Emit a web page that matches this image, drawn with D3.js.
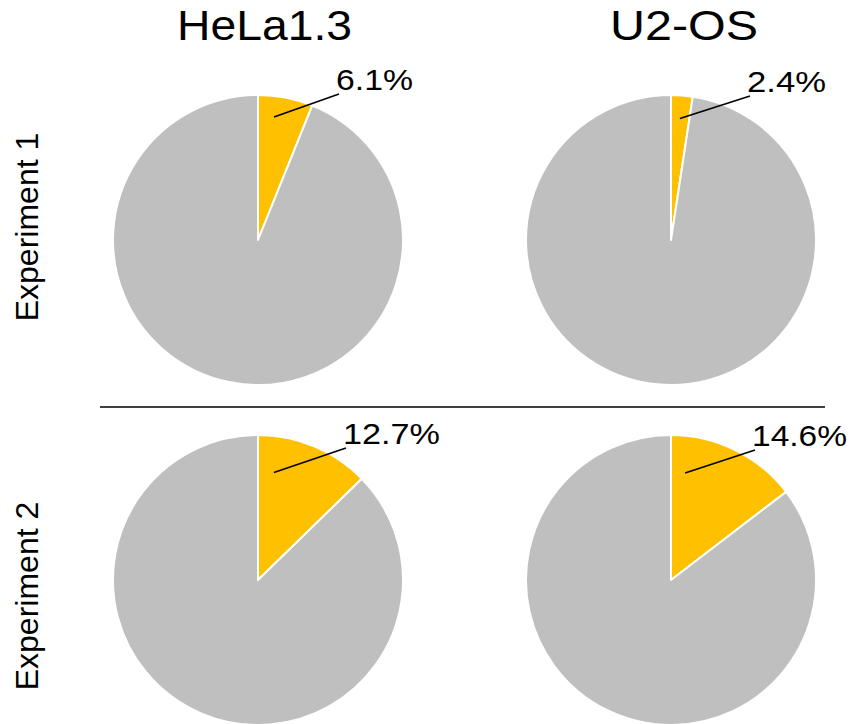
<!DOCTYPE html>
<html>
<head>
<meta charset="utf-8">
<script src="https://cdn.jsdelivr.net/npm/d3@7"></script>
<style>
  html, body { margin: 0; padding: 0; background: #fff; }
  svg { display: block; font-family: "Liberation Sans", Arial, sans-serif; }
</style>
</head>
<body>
<svg id="chart" width="851" height="724"></svg>
<script>
// Cell lines (columns) and experiments (rows)
const cellLines = ["HeLa1.3", "U2-OS"];
const experiments = ["Experiment 1", "Experiment 2"];
// Percentage of positive cells per cell line
const experiment1Pct = [6.1, 2.4];
const experiment2Pct = [12.7, 14.6];
const pctByExperiment = [experiment1Pct, experiment2Pct];

const svg = d3.select("#chart");

const colX = d3.scalePoint().domain(cellLines).range([258, 671]);
const rowY = d3.scalePoint().domain(experiments).range([240, 580]);
const radius = 145;

const pie = d3.pie().sort(null).value(d => d.v);
const arc = d3.arc().innerRadius(0).outerRadius(radius);
const colors = ["#FFC000", "#BFBFBF"];

// Leader-line anchor inside the highlighted slice (angle in degrees, fraction of radius)
const leaderStart = [[{a: 7.4, f: 0.855}, {a: 4.2, f: 0.84}], [{a: 8.4, f: 0.75}, {a: 7.5, f: 0.745}]];
const labelOffset = [[{x: 81, y: -146}, {x: 79, y: -144}], [{x: 88, y: -132}, {x: 84, y: -130}]];
const labelWidths = [[77, 79], [97, 95]];

const fmt = v => v.toFixed(1) + "%";

experiments.forEach((exp, ri) => {
  cellLines.forEach((cl, ci) => {
    const pct = pctByExperiment[ri][ci];
    const cx = colX(cl), cy = rowY(exp);
    const g = svg.append("g").attr("transform", `translate(${cx},${cy})`);
    g.selectAll("path")
      .data(pie([{v: pct}, {v: 100 - pct}]))
      .join("path")
      .attr("d", arc)
      .attr("fill", (d, i) => colors[i])
      .attr("stroke", "#fff")
      .attr("stroke-width", 2)
      .attr("stroke-linejoin", "round");

    const s = leaderStart[ri][ci];
    const ang = s.a * Math.PI / 180;
    const x0 = Math.sin(ang) * radius * s.f;
    const y0 = -Math.cos(ang) * radius * s.f;
    const off = labelOffset[ri][ci];
    g.append("line")
      .attr("x1", x0).attr("y1", y0)
      .attr("x2", off.x).attr("y2", off.y)
      .attr("stroke", "#000").attr("stroke-width", 1.6);
    g.append("text")
      .attr("x", off.x - 3)
      .attr("y", off.y - 4)
      .attr("font-size", 30)
      .attr("textLength", labelWidths[ri][ci])
      .attr("lengthAdjust", "spacingAndGlyphs")
      .attr("fill", "#000")
      .text(fmt(pct));
  });
});

// Column titles
const titleWidths = [175, 148];
const titleStarts = [177, 610];
cellLines.forEach((cl, i) => {
  svg.append("text")
    .attr("x", titleStarts[i])
    .attr("y", 40)
    .attr("font-size", 42)
    .attr("textLength", titleWidths[i])
    .attr("lengthAdjust", "spacingAndGlyphs")
    .attr("fill", "#000")
    .text(cl);
});

// Row titles
const rowLabelCenters = [227, 596];
experiments.forEach((exp, i) => {
  svg.append("text")
    .attr("transform", `translate(38,${rowLabelCenters[i]}) rotate(-90)`)
    .attr("text-anchor", "middle")
    .attr("font-size", 32)
    .attr("fill", "#000")
    .text(exp);
});

// Divider between experiments
svg.append("line")
  .attr("x1", 100).attr("x2", 825)
  .attr("y1", 407).attr("y2", 407)
  .attr("stroke", "#000").attr("stroke-width", 1.6);
</script>
</body>
</html>
